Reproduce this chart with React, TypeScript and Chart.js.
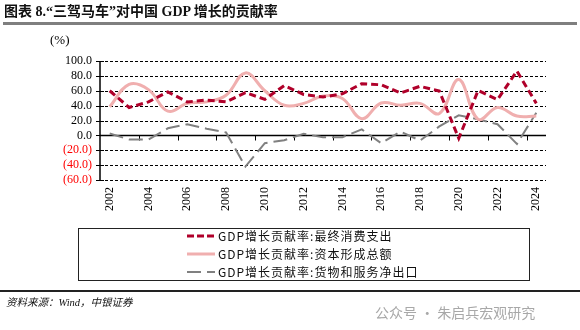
import React, { useEffect, useRef } from "react";
import { Chart, registerables } from "chart.js";

Chart.register(...registerables);

const years = [
  "2002", "2003", "2004", "2005", "2006", "2007", "2008", "2009", "2010", "2011", "2012", "2013",
  "2014", "2015", "2016", "2017", "2018", "2019", "2020", "2021", "2022", "2023", "2024",
];
const consumption = [60, 37.5, 45, 58.5, 45, 47.5, 45, 57.5, 48.5, 67, 55, 51.5, 56, 69.5, 68, 57, 66, 59.5, -4, 60.5, 48, 86.5, 43];
const capital = [38.5, 68.5, 61.5, 32.5, 43, 45, 54, 84, 60, 40.5, 43, 53, 49.5, 22.5, 43.5, 40.5, 43, 29.5, 75, 21.5, 37.5, 26, 26];
const netExports = [2.5, -5.5, -5.5, 9.5, 15, 9, 4, -42, -10.5, -6.5, 2, -2.5, -2.5, 8, -10.5, 5, -7, 12, 27, 21.5, 15, -11.5, 30.5];

const yTicks = [-60, -40, -20, 0, 20, 40, 60, 80, 100];

const seriesNames = [
  "GDP增长贡献率:最终消费支出",
  "GDP增长贡献率:资本形成总额",
  "GDP增长贡献率:货物和服务净出口",
];
const colors = ["#B0002A", "#F0AFAF", "#808080"];

const SERIF = '"Liberation Serif", "Noto Sans CJK SC", serif';

const axesPlugin = {
  id: "axesPlugin",
  beforeDatasetsDraw(chart: any) {
    const { ctx, chartArea, scales } = chart;
    const x = scales.x;
    const y = scales.y;
    ctx.save();
    // dashed horizontal grid lines
    ctx.strokeStyle = "#000";
    ctx.lineWidth = 1;
    ctx.setLineDash([3, 2]);
    ctx.beginPath();
    for (const v of yTicks) {
      if (v === 0) continue;
      const py = Math.round(y.getPixelForValue(v)) + 0.5;
      ctx.moveTo(chartArea.left, py);
      ctx.lineTo(chartArea.right, py);
    }
    ctx.stroke();
    // y tick marks crossing the axis
    ctx.setLineDash([]);
    ctx.beginPath();
    for (const v of yTicks) {
      const py = Math.round(y.getPixelForValue(v)) + 0.5;
      ctx.moveTo(chartArea.left - 4, py);
      ctx.lineTo(chartArea.left + 4, py);
    }
    ctx.stroke();
    // y axis line
    ctx.lineWidth = 1.5;
    ctx.beginPath();
    ctx.moveTo(chartArea.left, y.getPixelForValue(100));
    ctx.lineTo(chartArea.left, y.getPixelForValue(-60));
    ctx.stroke();
    // zero line
    const y0 = Math.round(y.getPixelForValue(0)) + 0.5;
    ctx.beginPath();
    ctx.moveTo(chartArea.left, y0);
    ctx.lineTo(chartArea.right, y0);
    ctx.stroke();
    ctx.lineWidth = 1;
    ctx.beginPath();
    for (let k = 2; k < years.length; k += 2) {
      const px = Math.round((x.getPixelForValue(k - 1) + x.getPixelForValue(k)) / 2) + 0.5;
      ctx.moveTo(px, y0);
      ctx.lineTo(px, y0 + 5);
    }
    ctx.stroke();
    ctx.restore();
  },
};

function ChartCanvas() {
  const ref = useRef<HTMLCanvasElement | null>(null);
  useEffect(() => {
    if (!ref.current) return;
    const chart = new Chart(ref.current, {
      type: "line",
      data: {
        labels: years,
        datasets: [
          {
            label: seriesNames[0],
            data: consumption,
            borderColor: colors[0],
            borderWidth: 3,
            borderDash: [7, 4],
            pointRadius: 0,
            tension: 0,
            fill: false,
          },
          {
            label: seriesNames[1],
            data: capital,
            borderColor: colors[1],
            borderWidth: 3,
            pointRadius: 0,
            tension: 0.4,
            fill: false,
          },
          {
            label: seriesNames[2],
            data: netExports,
            borderColor: colors[2],
            borderWidth: 2,
            borderDash: [14, 6],
            pointRadius: 0,
            tension: 0,
            fill: false,
          },
        ],
      },
      options: {
        responsive: false,
        animation: false,
        devicePixelRatio: 1,
        layout: { padding: { top: 61, right: 34, bottom: 105, left: 0 } },
        plugins: { legend: { display: false }, tooltip: { enabled: false } },
        scales: {
          x: {
            type: "category",
            offset: true,
            grid: { display: false, drawTicks: false },
            border: { display: false },
            ticks: {
              autoSkip: false,
              minRotation: 90,
              maxRotation: 90,
              padding: 7,
              color: "#000",
              font: { family: SERIF, size: 12 },
              callback: (_v: any, i: number) => (i % 2 === 0 ? years[i] : ""),
            },
            afterFit: (s: any) => {
              s.height = 45;
            },
          },
          y: {
            min: -60,
            max: 100,
            ticks: {
              stepSize: 20,
              autoSkip: false,
              padding: 8,
              font: { family: SERIF, size: 12 },
              color: (c: any) => (c.tick && c.tick.value < 0 ? "#FF0000" : "#000"),
              callback: (v: any) => {
                const n = Number(v);
                return n < 0 ? `(${Math.abs(n).toFixed(1)})` : n.toFixed(1);
              },
            },
            grid: { display: false, drawTicks: false },
            border: { display: false },
            afterFit: (s: any) => {
              s.width = 100;
            },
          },
        },
      },
      plugins: [axesPlugin],
    } as any);
    return () => chart.destroy();
  }, []);
  return (
    <canvas
      ref={ref}
      width={580}
      height={330}
      style={{ position: "absolute", left: 0, top: 0, width: 580, height: 330, display: "block" }}
    />
  );
}

function LegendSample({ idx }: { idx: number }) {
  const dash = idx === 0 ? "7 3" : idx === 2 ? "14 6" : undefined;
  const w = idx === 2 ? 2 : 3;
  return (
    <svg width={30} height={10} style={{ display: "block" }}>
      <line x1={0} y1={5} x2={28} y2={5} stroke={colors[idx]} strokeWidth={w} strokeDasharray={dash} />
    </svg>
  );
}

export default function App() {
  return (
    <div
      style={{
        position: "fixed",
        left: 0,
        top: 0,
        width: 580,
        height: 330,
        background: "#fff",
        overflow: "hidden",
      }}
    >
      <ChartCanvas />
      <div
        style={{
          position: "absolute",
          left: 4,
          top: 3,
          fontFamily: SERIF,
          fontWeight: "bold",
          fontSize: 14,
          lineHeight: "18px",
          color: "#111",
          whiteSpace: "nowrap",
        }}
      >
        图表 8.“三驾马车”对中国 GDP 增长的贡献率
      </div>
      <div style={{ position: "absolute", left: 3, top: 22, width: 574, height: 3, background: "#7F7F7F" }} />
      <div
        style={{
          position: "absolute",
          left: 50,
          top: 32,
          fontFamily: SERIF,
          fontSize: 13,
          lineHeight: "16px",
          color: "#000",
        }}
      >
        (%)
      </div>
      <div
        style={{
          position: "absolute",
          left: 78,
          top: 228,
          width: 450,
          height: 51,
          border: "1.5px solid #222",
        }}
      />
      {seriesNames.map((n, i) => (
        <div
          key={n}
          style={{
            position: "absolute",
            left: 187,
            top: 227 + i * 18,
            height: 18,
            display: "flex",
            alignItems: "center",
            whiteSpace: "nowrap",
          }}
        >
          <LegendSample idx={i} />
          <span
            style={{
              marginLeft: 1,
              fontFamily: '"Noto Sans CJK SC", sans-serif',
              fontSize: 12,
              letterSpacing: 1,
              color: "#111",
              lineHeight: "18px",
            }}
          >
            {n}
          </span>
        </div>
      ))}
      <div style={{ position: "absolute", left: 0, top: 290, width: 580, height: 2, background: "#222" }} />
      <div
        style={{
          position: "absolute",
          left: 6,
          top: 296,
          fontFamily: SERIF,
          fontStyle: "italic",
          fontSize: 10.5,
          lineHeight: "14px",
          color: "#111",
          whiteSpace: "nowrap",
        }}
      >
        资料来源：Wind，中银证券
      </div>
      <div
        style={{
          position: "absolute",
          left: 375,
          top: 303,
          fontFamily: '"Noto Sans CJK SC", sans-serif',
          fontSize: 14,
          lineHeight: "18px",
          color: "#A8A8A8",
          whiteSpace: "nowrap",
        }}
      >
        公众号 · 朱启兵宏观研究
      </div>
    </div>
  );
}
